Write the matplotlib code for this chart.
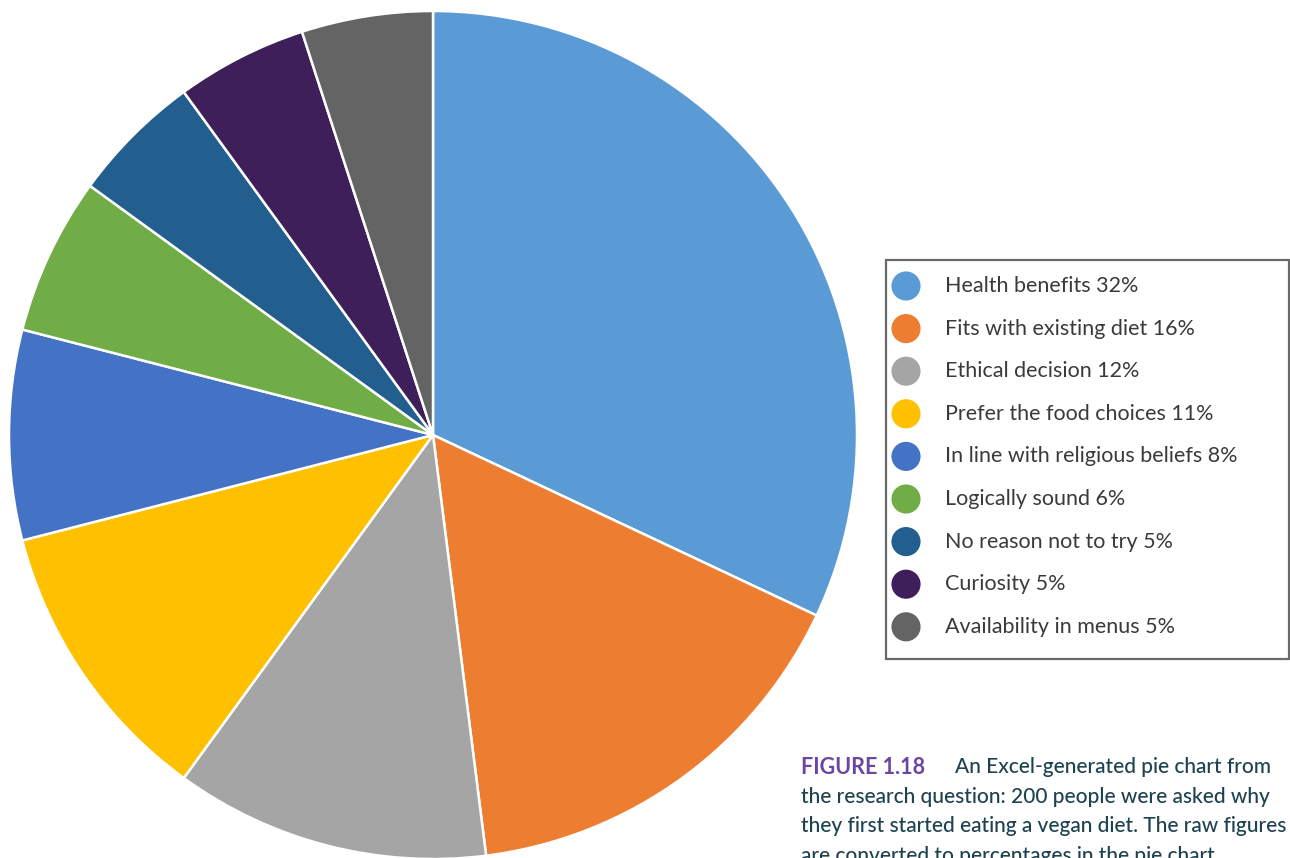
import matplotlib

matplotlib.use("Agg")
import matplotlib.pyplot as plt
from matplotlib.patches import Rectangle

# Survey: why 200 people first started eating a vegan diet (percentages)
reasons = [
    "Health benefits",
    "Fits with existing diet",
    "Ethical decision",
    "Prefer the food choices",
    "In line with religious beliefs",
    "Logically sound",
    "No reason not to try",
    "Curiosity",
    "Availability in menus",
]
shares = [32, 16, 12, 11, 8, 6, 5, 5, 5]
colors = [
    "#5B9BD5", "#ED7D31", "#A5A5A5", "#FFC000", "#4472C4",
    "#70AD47", "#225E8E", "#3F1F5A", "#646464",
]

W, H = 1290, 858
fig = plt.figure(figsize=(W / 100, H / 100), dpi=100)
ax = fig.add_axes([0, 0, 1, 1])

# pie, clockwise from 12 o'clock
cx, cy, r = 433, H - 435, 424
ax.pie(
    shares,
    colors=colors,
    startangle=90,
    counterclock=False,
    center=(cx, cy),
    radius=r,
    wedgeprops=dict(edgecolor="white", linewidth=1.8),
    frame=True,
)
ax.set_xlim(0, W)
ax.set_ylim(0, H)
ax.set_aspect("equal")
ax.axis("off")

# legend box drawn by hand
box_x0, box_y0, box_x1, box_y1 = 886, H - 659, 1289, H - 260
ax.add_patch(Rectangle((box_x0, box_y0), box_x1 - box_x0, box_y1 - box_y0,
                       facecolor="white", edgecolor="#6a6a6a", linewidth=1.6, zorder=3))
row0, step = H - 286, 42.6
for i, (name, val, col) in enumerate(zip(reasons, shares, colors)):
    y = row0 - i * step
    ax.scatter([906], [y], s=440, color=col, edgecolors="none", zorder=4)
    ax.text(945, y, f"{name} {val}%", fontsize=15.5, family="Lato",
            color="#3a3a3a", va="center", ha="left", zorder=4)

# caption
cap_color = "#1E4250"
ax.text(801, H - 767, "FIGURE 1.18", fontsize=15.5, family="Lato", weight="bold",
        color="#6B45A3", va="center", ha="left")
ax.text(955, H - 767, "An Excel-generated pie chart from", fontsize=15,
        family="Lato", weight="medium", color=cap_color, va="center", ha="left")
cap_lines = [
    "the research question: 200 people were asked why",
    "they first started eating a vegan diet. The raw figures",
    "are converted to percentages in the pie chart.",
]
for j, line in enumerate(cap_lines):
    ax.text(801, H - 797 - j * 29.5, line, fontsize=15, family="Lato", weight="medium",
            color=cap_color, va="center", ha="left")

fig.savefig("out.png", dpi=100)
